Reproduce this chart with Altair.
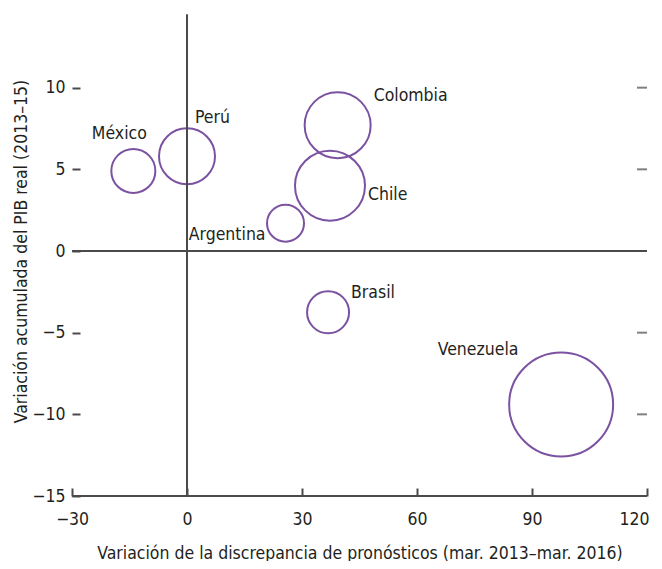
import altair as alt
import pandas as pd

# ---- data ----
paises = ["México", "Perú", "Colombia", "Chile", "Argentina", "Brasil", "Venezuela"]
discrepancia = [-14.0, 0.0, 39.3, 37.3, 25.7, 36.8, 97.6]      # eje x
pib_real = [4.9, 5.8, 7.7, 4.0, 1.7, -3.75, -9.4]               # eje y
tamano = [4.84, 7.84, 10.89, 12.25, 3.42, 4.41, 27.04]           # tamaño de burbuja

x_ticks = [-30, 0, 30, 60, 90, 120]
y_ticks = [-15, -10, -5, 0, 5, 10, 15]

df = pd.DataFrame({"pais": paises, "x": discrepancia, "y": pib_real, "s": tamano})

FONT = "DejaVu Sans Condensed"
FS = 17.5
TXT = "#231f20"
LINE = "#4a4a4a"
PURPLE = "#7b52a1"

x_scale = alt.Scale(domain=[-30, 120], nice=False, zero=False)
y_scale = alt.Scale(domain=[-15, 15], nice=False, zero=False)

x_axis = alt.Axis(
    orient="bottom",
    values=x_ticks, grid=False, domain=False, ticks=True, tickSize=8, offset=-8,
    tickColor=LINE, tickWidth=2, labelPadding=14, labelFont=FONT, labelFontSize=FS,
    labelColor=TXT, labelFlush=False,
    labelAlign={"condition": {"test": "datum.value == 120", "value": "right"}, "value": "center"},
    labelOffset={"condition": {"test": "datum.value == 120", "value": 2}, "value": 0},
    title="Variación de la discrepancia de pronósticos (mar. 2013–mar. 2016)",
    titleFont=FONT, titleFontSize=FS, titleFontWeight="normal", titleColor=TXT,
    titleY=65, titleBaseline="middle",
)
y_axis = alt.Axis(
    orient="left",
    values=y_ticks, grid=False, domain=False, ticks=True, tickSize=8, offset=-8,
    tickColor=LINE, tickWidth=2, labelPadding=7, labelFont=FONT, labelFontSize=FS,
    labelColor=TXT, labelFlush=False,
    labelOffset={"condition": {"test": "datum.value == 15", "value": -8}, "value": 0},
    title="Variación acumulada del PIB real (2013–15)",
    titleFont=FONT, titleFontSize=FS, titleFontWeight="normal", titleColor=TXT,
    titleX=-59, titleY=245, titleBaseline="middle", titleAlign="center", titleAngle=270,
)


def X(field):
    return alt.X(field, type="quantitative", scale=x_scale, axis=x_axis)


def Y(field):
    return alt.Y(field, type="quantitative", scale=y_scale, axis=y_axis)


bubbles = alt.Chart(df).mark_point(
    shape="circle", filled=False, stroke=PURPLE, strokeWidth=2, opacity=1
).encode(
    x=X("x"),
    y=Y("y"),
    size=alt.Size("s:Q", scale=alt.Scale(domain=[0, 30], range=[0, 12000]), legend=None),
)

# horizontal lines: zero line and bottom baseline
hlines = alt.Chart(pd.DataFrame({"y": [0, -15], "x1": [-30, -30], "x2": [120, 120]})).mark_rule(
    color=LINE, strokeWidth=2
).encode(x=X("x1"), x2="x2:Q", y=Y("y"))

# vertical zero line
vline = alt.Chart(pd.DataFrame({"x": [0], "y1": [-15], "y2": [14.5]})).mark_rule(
    color=LINE, strokeWidth=2
).encode(x=X("x"), y=Y("y1"), y2="y2:Q")

# right-hand tick marks (inward)
rticks = alt.Chart(pd.DataFrame({"y": y_ticks, "x": [120] * len(y_ticks)})).mark_tick(
    orient="horizontal", size=10, thickness=2, color=LINE, xOffset=-5
).encode(x=X("x"), y=Y("y"))

label_style = {
    "México": dict(align="center", dx=-14, dy=-37),
    "Perú": dict(align="left", dx=8, dy=-38),
    "Colombia": dict(align="left", dx=36, dy=-29),
    "Chile": dict(align="left", dx=38, dy=9),
    "Argentina": dict(align="right", dx=-20, dy=12),
    "Brasil": dict(align="left", dx=23, dy=-19),
    "Venezuela": dict(align="center", dx=-83, dy=-55),
}

labels = []
for p in paises:
    st = label_style[p]
    labels.append(
        alt.Chart(df).transform_filter(alt.datum.pais == p).mark_text(
            font=FONT, fontSize=FS, color=TXT, baseline="middle", **st
        ).encode(x=X("x"), y=Y("y"), text="pais:N")
    )

chart = alt.layer(bubbles, hlines, vline, rticks, *labels).properties(
    width=575, height=490,
    autosize=alt.AutoSizeParams(type="none"),
    padding={"left": 64, "top": -2, "right": 7, "bottom": 65},
    background="white",
).configure_view(stroke=None)

chart.save("out.html", embed_options={"renderer": "svg", "actions": False})
